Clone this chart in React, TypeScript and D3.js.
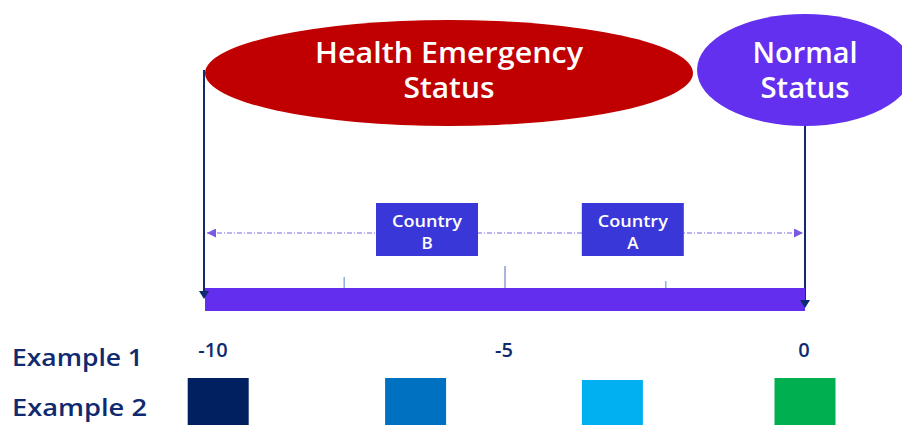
import React from 'react';
import * as d3 from 'd3';

// axis values
const axisDomain = [-10, 0];
const axisLabels = [-10, -5, 0];
const minorTicks = [-7.68, -2.32];
const majorTicks = [-5];

// status bubbles
const statusNames = ['Health Emergency', 'Normal'];
const statusLines = [['Health Emergency', 'Status'], ['Normal', 'Status']];
const statusWidths = [[268, 91], [105, 89]];
const statusColors = ['#C00000', '#6230EE'];

// country markers
const countries = ['Country B', 'Country A'];
const countryValues = [-6.3, -2.87];

// example rows
const exampleRows = ['Example 1', 'Example 2'];
const exampleWidths = [131, 135];
const exampleValues = [-9.78, -6.49, -3.21, 0];
const exampleColors = ['#002060', '#0070C0', '#00B0F0', '#00B050'];

const W = 902;
const H = 425;
const FONT = "'Open Sans', 'DejaVu Sans', sans-serif";
const NAVY = '#0F2A6E';

export default function App() {
  const x = d3.scaleLinear().domain(axisDomain).range([205, 805]);
  const x0 = x(axisDomain[0]);
  const x1 = x(axisDomain[1]);

  const barY = 288;
  const barH = 23;
  const dashY = 233;

  // bubble geometry: left spans the emergency range, right centered on 0
  const bubbles = [
    { cx: (x0 + 693) / 2, cy: 73, rx: (693 - x0) / 2, ry: 53 },
    { cx: x1, cy: 70, rx: 108, ry: 56 },
  ];

  return (
    <svg width={W} height={H} style={{ display: 'block', position: 'absolute', left: 0, top: 0 }}>
      <defs>
        <marker id="purpleArrow" viewBox="0 0 10 10" refX="10" refY="5" markerWidth="9" markerHeight="9" markerUnits="userSpaceOnUse" orient="auto-start-reverse">
          <path d="M0,0 L10,5 L0,10 z" fill="#7A5AE0" />
        </marker>
      </defs>

      {/* vertical connectors */}
      <line x1={x0 - 1} x2={x0 - 1} y1={70} y2={294} stroke={NAVY} strokeWidth={2} />
      <line x1={x1} x2={x1} y1={124} y2={302} stroke={NAVY} strokeWidth={2} />

      {/* status bubbles */}
      {bubbles.map((b, i) => (
        <g key={statusNames[i]}>
          <ellipse cx={b.cx} cy={b.cy} rx={b.rx} ry={b.ry} fill={statusColors[i]} />
          {statusLines[i].map((t, j) => (
            <text key={t + j} x={b.cx} y={63 + j * 35} textAnchor="middle" fill="#fff"
              fontFamily={FONT} fontSize={28} fontWeight={600}
              textLength={statusWidths[i][j]} lengthAdjust="spacingAndGlyphs">{t}</text>
          ))}
        </g>
      ))}

      {/* dash-dot range arrow */}
      <line x1={x0 + 2} x2={x1 - 2} y1={dashY} y2={dashY} stroke="#A89BEA" strokeWidth={1.3}
        strokeDasharray="5,2,1,2" markerStart="url(#purpleArrow)" markerEnd="url(#purpleArrow)" />

      {/* country boxes */}
      {countries.map((c, i) => {
        const cx = x(countryValues[i]);
        const [w1, w2] = c.split(' ');
        return (
          <g key={c}>
            <rect x={cx - 51} y={203} width={102} height={53} fill="#3A37D9" />
            <text x={cx} y={227} textAnchor="middle" fill="#fff" fontFamily={FONT} fontSize={16}
              fontWeight={600} textLength={70} lengthAdjust="spacingAndGlyphs">{w1}</text>
            <text x={cx} y={249} textAnchor="middle" fill="#fff" fontFamily={FONT} fontSize={17}
              fontWeight={600}>{w2}</text>
          </g>
        );
      })}

      {/* ticks */}
      {majorTicks.map(t => (
        <line key={t} x1={x(t)} x2={x(t)} y1={266} y2={barY} stroke="#4A6FB8" strokeWidth={1} />
      ))}
      {minorTicks.map(t => (
        <line key={t} x1={x(t)} x2={x(t)} y1={t < -5 ? 277 : 281} y2={barY} stroke="#8FAEE0" strokeWidth={1.5} />
      ))}

      {/* axis bar */}
      <rect x={x0} y={barY} width={x1 - x0} height={barH} fill="#632EEE" />

      {/* arrow heads of the connectors, over the bar */}
      <path d={`M${x0 - 6},${291} L${x0 + 4},${291} L${x0 - 1},${299} z`} fill={NAVY} />
      <path d={`M${x1 - 5},${300} L${x1 + 5},${300} L${x1},${308} z`} fill={NAVY} />

      {/* axis labels */}
      {axisLabels.map(v => (
        <text key={v} x={v === -10 ? x(v) + 8 : x(v) - 1} y={357} textAnchor="middle" fill={NAVY}
          fontFamily={FONT} fontSize={20} fontWeight={600}>{v}</text>
      ))}

      {/* example rows */}
      {exampleRows.map((r, i) => (
        <text key={r} x={12} y={366 + i * 50} fill={NAVY} fontFamily={FONT} fontSize={24}
          fontWeight={600} textLength={exampleWidths[i]} lengthAdjust="spacingAndGlyphs">{r}</text>
      ))}
      {exampleValues.map((v, i) => (
        <rect key={i} x={x(v) - 30.5} y={i === 2 ? 380 : 378} width={61} height={47} fill={exampleColors[i]} />
      ))}
    </svg>
  );
}
